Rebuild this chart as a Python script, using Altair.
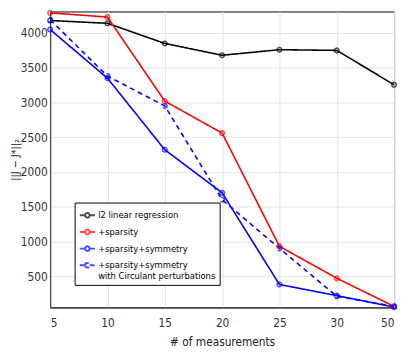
import altair as alt
import pandas as pd

x_labels = ["5", "10", "15", "20", "25", "30", "50"]
series_names = [
    "l2 linear regression",
    "+sparsity",
    "+sparsity+symmetry",
    "+sparsity+symmetry|with Circulant perturbations",
]
l2_vals = [4180, 4140, 3850, 3680, 3760, 3750, 3255]
sp_vals = [4290, 4230, 3020, 2560, 930, 470, 65]
sym_vals = [4050, 3350, 2320, 1700, 380, 220, 55]
circ_vals = [4190, 3380, 2950, 1600, 900, 210, 65]
colors = ["#000000", "#ff0000", "#0000ff", "#0000ff"]
dashes = [[1, 0], [1, 0], [1, 0], [5, 4]]
y_ticks = [500, 1000, 1500, 2000, 2500, 3000, 3500, 4000]

rows = []
for name, vals in zip(series_names, [l2_vals, sp_vals, sym_vals, circ_vals]):
    for i, v in enumerate(vals):
        rows.append({"series": name, "idx": i, "label": x_labels[i], "value": v})
df = pd.DataFrame(rows)

label_expr = "[" + ",".join("'%s'" % l for l in x_labels) + "][datum.value]"

font = "DejaVu Sans Condensed, Liberation Sans Narrow, Liberation Sans"
sym_path = "M-1,0L-0.3,0M0.3,0L1,0M-0.3,0A0.3,0.3 0 1,1 0.3,0A0.3,0.3 0 1,1 -0.3,0"

color_scale = alt.Scale(domain=series_names, range=colors)
dash_scale = alt.Scale(domain=series_names, range=dashes)

legend = alt.Legend(
    title=None,
    orient="none",
    legendX=25,
    legendY=195,
    labelExpr="split(datum.label, '|')",
    labelFont=font,
    labelFontSize=9.5,
    labelColor="#000",
    symbolType=sym_path,
    symbolSize=240,
    symbolStrokeWidth=2,
    strokeColor="#000",
    fillColor="white",
    padding=4,
    rowPadding=1,
    labelOffset=2,
    labelLimit=300,
)

base = alt.Chart(df).encode(
    x=alt.X(
        "idx:Q",
        scale=alt.Scale(domain=[0, 6], nice=False),
        axis=alt.Axis(
            values=list(range(7)),
            labelExpr=label_expr,
            title="# of measurements",
        ),
    ),
    y=alt.Y(
        "value:Q",
        scale=alt.Scale(domain=[50, 4310], nice=False, zero=False),
        axis=alt.Axis(values=y_ticks, format="d", title="||J − J*||₂"),
    ),
    color=alt.Color("series:N", scale=color_scale, legend=legend, sort=series_names),
    strokeDash=alt.StrokeDash("series:N", scale=dash_scale, legend=legend, sort=series_names),
)

lines = base.mark_line(strokeWidth=1.6)
points = base.mark_point(shape="circle", size=22, filled=False, strokeWidth=1.5)

chart = (
    alt.layer(lines, points)
    .properties(
        width=351,
        height=302,
        autosize=alt.AutoSizeParams(type="none"),
        padding={"left": 43, "top": 0, "right": 4, "bottom": 45},
    )
    .configure_view(stroke="#000", strokeWidth=1)
    .configure_axis(
        labelFont=font,
        titleFont=font,
        labelFontSize=12,
        titleFontSize=12,
        titleFontWeight="normal",
        labelColor="#333",
        titleColor="#222",
        gridColor="#e3e3e3",
        domainColor="#333",
        ticks=False,
        labelPadding=3,
    )
    .configure_axisX(titlePadding=9, labelPadding=10)
    .configure_axisY(titleFontSize=11, titlePadding=0)
)

chart.save("out.html", embed_options={"renderer": "svg", "actions": False})
